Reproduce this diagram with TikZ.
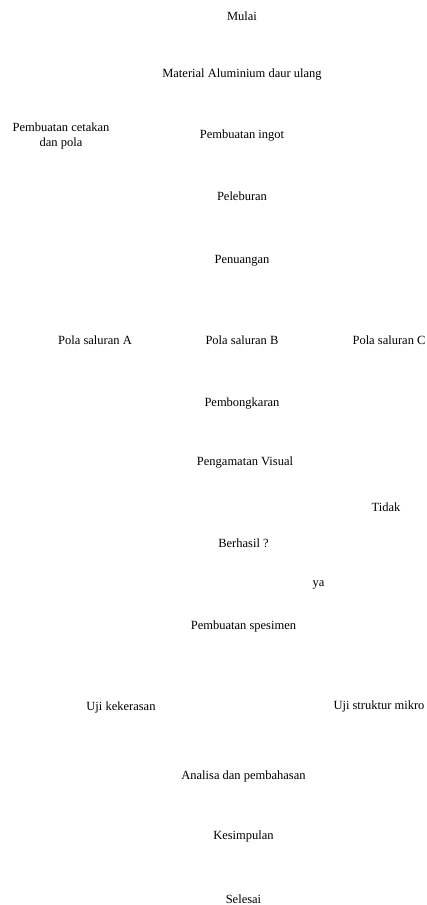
\documentclass[tikz,border=0pt]{standalone}
\usepackage{fontspec}
\setmainfont{Liberation Serif}
\usetikzlibrary{positioning}

\begin{document}
\begin{tikzpicture}[
  on grid,
  lbl/.style={align=center,inner sep=0pt,font=\fontsize{12.5}{15}\selectfont,text height=9pt,text depth=3pt},
  lbltwo/.style={align=center,inner sep=0pt,font=\fontsize{12.5}{15}\selectfont}
]
\useasboundingbox (0,0) rectangle (427pt,-905pt);
\node[lbl] (mulai) at (242pt,-17.5pt) {Mulai};
\node[lbl,below=57pt of mulai] (bahan) {Material Aluminium daur ulang};
\node[lbl,below=61.3pt of bahan] (ingot) {Pembuatan ingot};
\node[lbltwo,left=181pt of ingot] (cetak) {Pembuatan cetakan\\dan pola};
\node[lbl,below=62pt of ingot] (lebur) {Peleburan};
\node[lbl,below=63pt of lebur] (tuang) {Penuangan};
\node[lbl,below=81pt of tuang] (polaB) {Pola saluran B};
\node[lbl,left=147pt of polaB] (polaA) {Pola saluran A};
\node[lbl,right=147pt of polaB] (polaC) {Pola saluran C};
\node[lbl,below=62pt of polaB] (bongkar) {Pembongkaran};
\node[lbl,below=59pt of bongkar,xshift=3pt] (visual) {Pengamatan Visual};
\node[lbl,below=82pt of visual,xshift=-1.5pt] (cek) {Berhasil ?};
\node[lbl,above right=36pt and 142.5pt of cek] (tidak) {Tidak};
\node[lbl,below right=39pt and 75pt of cek] (ya) {ya};
\node[lbl,below=82pt of cek] (spesimen) {Pembuatan spesimen};
\node[lbl,below left=81pt and 122.5pt of spesimen] (keras) {Uji kekerasan};
\node[lbl,below right=80pt and 135.5pt of spesimen] (mikro) {Uji struktur mikro};
\node[lbl,below=150pt of spesimen] (analisa) {Analisa dan pembahasan};
\node[lbl,below=60pt of analisa] (simpul) {Kesimpulan};
\node[lbl,below=64pt of simpul] (selesai) {Selesai};
\end{tikzpicture}
\end{document}
